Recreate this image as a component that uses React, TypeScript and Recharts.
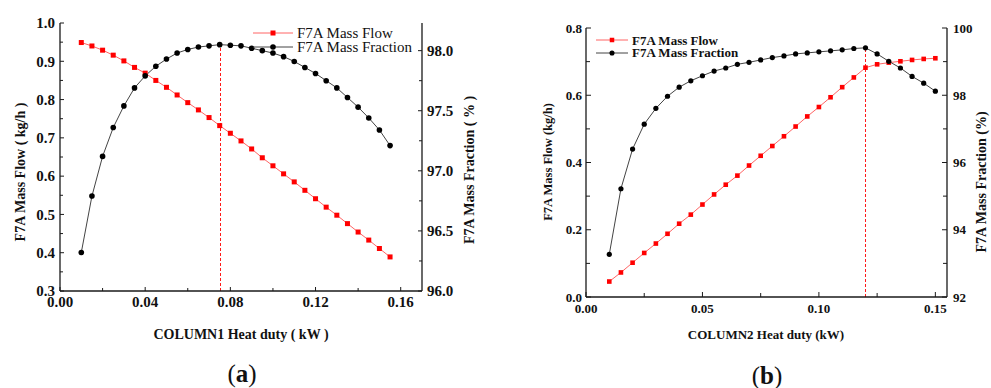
import { LineChart, Line, XAxis, YAxis, ReferenceLine, Legend } from "recharts";

// ---- data (a): COLUMN1 ----
const heatDutyA = [
  0.01, 0.015, 0.02, 0.025, 0.03, 0.035, 0.04, 0.045, 0.05, 0.055, 0.06, 0.065, 0.07, 0.075, 0.08,
  0.085, 0.09, 0.095, 0.1, 0.105, 0.11, 0.115, 0.12, 0.125, 0.13, 0.135, 0.14, 0.145, 0.15, 0.155,
];
const massFlowA = [
  0.949, 0.94, 0.929, 0.916, 0.901, 0.884, 0.869, 0.85, 0.832, 0.812, 0.792, 0.773, 0.753, 0.732, 0.712,
  0.692, 0.671, 0.648, 0.627, 0.606, 0.585, 0.563, 0.541, 0.519, 0.498, 0.476, 0.454, 0.433, 0.411, 0.389,
];
const massFractionA = [
  96.32, 96.79, 97.12, 97.36, 97.54, 97.69, 97.79, 97.87, 97.93, 97.98, 98.01, 98.03, 98.04, 98.05, 98.045,
  98.04, 98.02, 98.0, 97.98, 97.95, 97.91, 97.86, 97.81, 97.75, 97.69, 97.61, 97.53, 97.44, 97.34, 97.21,
];
const peakDutyA = 0.075;
const peakFractionA = 98.05;

// ---- data (b): COLUMN2 ----
const heatDutyB = [
  0.01, 0.015, 0.02, 0.025, 0.03, 0.035, 0.04, 0.045, 0.05, 0.055, 0.06, 0.065, 0.07, 0.075, 0.08,
  0.085, 0.09, 0.095, 0.1, 0.105, 0.11, 0.115, 0.12, 0.125, 0.13, 0.135, 0.14, 0.145, 0.15,
];
const massFlowB = [
  0.046, 0.073, 0.102, 0.131, 0.159, 0.188, 0.218, 0.245, 0.275, 0.305, 0.334, 0.361, 0.391, 0.42, 0.449,
  0.478, 0.507, 0.537, 0.565, 0.594, 0.624, 0.653, 0.682, 0.692, 0.697, 0.701, 0.705, 0.708, 0.71,
];
const massFractionB = [
  93.27, 95.22, 96.4, 97.14, 97.61, 97.97, 98.24, 98.43, 98.58, 98.72, 98.81, 98.92, 98.98, 99.05, 99.12,
  99.17, 99.23, 99.26, 99.29, 99.32, 99.35, 99.39, 99.41, 99.23, 99.01, 98.81, 98.56, 98.36, 98.12,
];
const peakDutyB = 0.12;
const peakFractionB = 99.41;

// ---- ticks ----
const xTicksA = [0, 0.02, 0.04, 0.06, 0.08, 0.1, 0.12, 0.14, 0.16];
const xLabelsA = [0, 0.04, 0.08, 0.12, 0.16];
const flowTicksA = [0.3, 0.35, 0.4, 0.45, 0.5, 0.55, 0.6, 0.65, 0.7, 0.75, 0.8, 0.85, 0.9, 0.95, 1.0];
const flowLabelsA = [0.3, 0.4, 0.5, 0.6, 0.7, 0.8, 0.9, 1.0];
const fracTicksA = [96, 96.25, 96.5, 96.75, 97, 97.25, 97.5, 97.75, 98];
const fracLabelsA = [96, 96.5, 97, 97.5, 98];

const xTicksB = [0, 0.025, 0.05, 0.075, 0.1, 0.125, 0.15];
const xLabelsB = [0, 0.05, 0.1, 0.15];
const flowTicksB = [0, 0.1, 0.2, 0.3, 0.4, 0.5, 0.6, 0.7, 0.8];
const flowLabelsB = [0, 0.2, 0.4, 0.6, 0.8];
const fracTicksB = [92, 93, 94, 95, 96, 97, 98, 99, 100];
const fracLabelsB = [92, 94, 96, 98, 100];

const FONT = '"Liberation Serif", "Times New Roman", serif';
const AXIS = "#1a1a1a";
const FLOW_MARK = "#ff0000";
const FLOW_LINE = "#ff6464";
const FRAC_MARK = "#000000";
const FRAC_LINE = "#444444";
const PEAK_LINE = "#ff1a1a";

type TickCfg = {
  side: "left" | "right" | "bottom";
  labels: number[];
  digits: number;
  margin: number;
  len: number;
  minorLen: number;
  fontSize: number;
};

// ticks point inward, minor ticks get no label
function makeTick(cfg: TickCfg) {
  return (props: any) => {
    const { x, y, payload } = props;
    const v = payload.value as number;
    const major = cfg.labels.some((m) => Math.abs(m - v) < 1e-9);
    const len = major ? cfg.len : cfg.minorLen;
    const label = v.toFixed(cfg.digits);
    const textStyle = { fontFamily: FONT, fontSize: cfg.fontSize, fontWeight: 700 };
    if (cfg.side === "left") {
      const ax = x + cfg.margin;
      return (
        <g>
          <line x1={ax} x2={ax + len} y1={y} y2={y} stroke={AXIS} strokeWidth={1} />
          {major && (
            <text x={x} y={y} dy="0.35em" textAnchor="end" fill="#111" style={textStyle}>
              {label}
            </text>
          )}
        </g>
      );
    }
    if (cfg.side === "right") {
      const ax = x - cfg.margin;
      return (
        <g>
          <line x1={ax} x2={ax - len} y1={y} y2={y} stroke={AXIS} strokeWidth={1} />
          {major && (
            <text x={x} y={y} dy="0.35em" textAnchor="start" fill="#111" style={textStyle}>
              {label}
            </text>
          )}
        </g>
      );
    }
    const ay = y - cfg.margin;
    return (
      <g>
        <line x1={x} x2={x} y1={ay} y2={ay - len} stroke={AXIS} strokeWidth={1} />
        {major && (
          <text x={x} y={y} dy="0.75em" textAnchor="middle" fill="#111" style={textStyle}>
            {label}
          </text>
        )}
      </g>
    );
  };
}

function squareDot(size: number) {
  return (p: any) => {
    if (p.cx == null || p.cy == null) return <g key={p.key} />;
    return <rect key={p.key} x={p.cx - size / 2} y={p.cy - size / 2} width={size} height={size} fill={FLOW_MARK} />;
  };
}

function circleDot(r: number) {
  return (p: any) => {
    if (p.cx == null || p.cy == null) return <g key={p.key} />;
    return <circle key={p.key} cx={p.cx} cy={p.cy} r={r} fill={FRAC_MARK} />;
  };
}

// dotted red marker line at the optimum
function peakShape(p: any) {
  const x = Math.round(p.x1) + 0.5;
  return (
    <line x1={x} x2={x} y1={p.y1} y2={p.y2} stroke={PEAK_LINE} strokeWidth={1} strokeDasharray="3 2" fill="none" />
  );
}

function LegendBox({
  payload,
  fontSize,
  bold,
  rowH,
  lineLen,
  mark,
}: {
  payload?: any[];
  fontSize: number;
  bold: boolean;
  rowH: number;
  lineLen: number;
  mark: number;
}) {
  return (
    <div style={{ fontFamily: FONT, fontSize, fontWeight: bold ? 700 : 400, color: "#111" }}>
      {(payload ?? []).map((e) => {
        const square = e.type === "square";
        const c = lineLen / 2;
        return (
          <div key={e.value} style={{ display: "flex", alignItems: "center", height: rowH, whiteSpace: "nowrap" }}>
            <svg width={lineLen} height={10} style={{ display: "block" }}>
              <line x1={0} x2={lineLen} y1={5} y2={5} stroke={square ? FLOW_LINE : FRAC_LINE} strokeWidth={1} />
              {square ? (
                <rect x={c - mark / 2} y={5 - mark / 2} width={mark} height={mark} fill={FLOW_MARK} />
              ) : (
                <circle cx={c} cy={5} r={mark / 2 + 0.3} fill={FRAC_MARK} />
              )}
            </svg>
            <span style={{ marginLeft: 4, lineHeight: 1 }}>{e.value}</span>
          </div>
        );
      })}
    </div>
  );
}

function Caption({
  text,
  x,
  y,
  size,
  rotate,
  bold = true,
}: {
  text: React.ReactNode;
  x: number;
  y: number;
  size: number;
  rotate?: boolean;
  bold?: boolean;
}) {
  return (
    <div
      style={{
        position: "absolute",
        left: x,
        top: y,
        transform: `translate(-50%, -50%)${rotate ? " rotate(-90deg)" : ""}`,
        fontFamily: FONT,
        fontSize: size,
        fontWeight: bold ? 700 : 400,
        color: "#111",
        whiteSpace: "nowrap",
        lineHeight: 1,
      }}
    >
      {text}
    </div>
  );
}

export default function App() {
  const dataA = heatDutyA.map((x, i) => ({ x, flow: massFlowA[i], frac: massFractionA[i] }));
  const dataB = heatDutyB.map((x, i) => ({ x, flow: massFlowB[i], frac: massFractionB[i] }));

  return (
    <div style={{ position: "absolute", left: 0, top: 0, width: 991, height: 388, background: "#fff", overflow: "hidden" }}>
      {/* (a) */}
      <div style={{ position: "absolute", left: 0, top: 0 }}>
        <LineChart width={490} height={320} data={dataA} margin={{ top: 23, right: 10, bottom: 0, left: 10 }}>
          <XAxis
            type="number"
            dataKey="x"
            domain={[0, 0.17]}
            ticks={xTicksA}
            interval={0}
            height={29}
            tickSize={0}
            tickMargin={5}
            tickLine={false}
            axisLine={{ stroke: AXIS, strokeWidth: 1.3 }}
            tick={makeTick({ side: "bottom", labels: xLabelsA, digits: 2, margin: 5, len: 4, minorLen: 3, fontSize: 15 })}
          />
          <XAxis
            xAxisId="top"
            orientation="top"
            type="number"
            dataKey="x"
            domain={[0, 0.17]}
            height={0}
            tick={false}
            tickLine={false}
            axisLine={{ stroke: AXIS, strokeWidth: 1.3 }}
          />
          <YAxis
            yAxisId="left"
            type="number"
            domain={[0.3, 1.0]}
            ticks={flowTicksA}
            interval={0}
            width={50}
            tickSize={0}
            tickMargin={5}
            tickLine={false}
            axisLine={{ stroke: AXIS, strokeWidth: 1.3 }}
            tick={makeTick({ side: "left", labels: flowLabelsA, digits: 1, margin: 5, len: 4, minorLen: 3, fontSize: 15 })}
          />
          <YAxis
            yAxisId="right"
            orientation="right"
            type="number"
            domain={[96, 98.23]}
            ticks={fracTicksA}
            interval={0}
            width={58}
            tickSize={0}
            tickMargin={5}
            tickLine={false}
            axisLine={{ stroke: AXIS, strokeWidth: 1.3 }}
            tick={makeTick({ side: "right", labels: fracLabelsA, digits: 1, margin: 5, len: 4, minorLen: 3, fontSize: 15 })}
          />
          <ReferenceLine
            yAxisId="right"
            segment={[
              { x: peakDutyA, y: 96 },
              { x: peakDutyA, y: peakFractionA },
            ]}
            stroke={PEAK_LINE}
            shape={peakShape}
          />
          <Line
            yAxisId="left"
            dataKey="flow"
            name="F7A Mass Flow"
            legendType="square"
            stroke={FLOW_LINE}
            strokeWidth={1}
            dot={squareDot(5)}
            isAnimationActive={false}
          />
          <Line
            yAxisId="right"
            dataKey="frac"
            name="F7A Mass Fraction"
            legendType="circle"
            stroke={FRAC_LINE}
            strokeWidth={1}
            dot={circleDot(2.8)}
            isAnimationActive={false}
          />
          <Legend
            layout="vertical"
            align="center"
            verticalAlign="middle"
            wrapperStyle={{ left: 253, top: 26, width: "auto" }}
            content={(p: any) => <LegendBox payload={p.payload} fontSize={15} bold={false} rowH={14} lineLen={40} mark={5} />}
          />
        </LineChart>
      </div>
      <Caption text="F7A Mass Flow ( kg/h )" x={21} y={172} size={14} rotate />
      <Caption text="F7A Mass Fraction ( % )" x={470} y={170} size={14} rotate />
      <Caption text="COLUMN1 Heat duty ( kW )" x={241} y={335} size={14} />
      <Caption
        text={
          <span>
            (<b>a</b>)
          </span>
        }
        x={242}
        y={373}
        size={25}
        bold={false}
      />

      {/* (b) */}
      <div style={{ position: "absolute", left: 500, top: 0 }}>
        <LineChart width={491} height={320} data={dataB} margin={{ top: 28, right: 0, bottom: 0, left: 36 }}>
          <XAxis
            type="number"
            dataKey="x"
            domain={[0, 0.155]}
            ticks={xTicksB}
            interval={0}
            height={23}
            tickSize={0}
            tickMargin={6}
            tickLine={false}
            axisLine={{ stroke: AXIS, strokeWidth: 1.3 }}
            tick={makeTick({ side: "bottom", labels: xLabelsB, digits: 2, margin: 6, len: 5, minorLen: 4, fontSize: 13 })}
          />
          <XAxis
            xAxisId="top"
            orientation="top"
            type="number"
            dataKey="x"
            domain={[0, 0.155]}
            height={0}
            tick={false}
            tickLine={false}
            axisLine={{ stroke: AXIS, strokeWidth: 1.3 }}
          />
          <YAxis
            yAxisId="left"
            type="number"
            domain={[0, 0.8]}
            ticks={flowTicksB}
            interval={0}
            width={50}
            tickSize={0}
            tickMargin={4}
            tickLine={false}
            axisLine={{ stroke: AXIS, strokeWidth: 1.3 }}
            tick={makeTick({ side: "left", labels: flowLabelsB, digits: 1, margin: 4, len: 5, minorLen: 4, fontSize: 13 })}
          />
          <YAxis
            yAxisId="right"
            orientation="right"
            type="number"
            domain={[92, 100]}
            ticks={fracTicksB}
            interval={0}
            width={44}
            tickSize={0}
            tickMargin={6}
            tickLine={false}
            axisLine={{ stroke: AXIS, strokeWidth: 1.3 }}
            tick={makeTick({ side: "right", labels: fracLabelsB, digits: 0, margin: 6, len: 5, minorLen: 4, fontSize: 13 })}
          />
          <ReferenceLine
            yAxisId="right"
            segment={[
              { x: peakDutyB, y: 92 },
              { x: peakDutyB, y: peakFractionB },
            ]}
            stroke={PEAK_LINE}
            shape={peakShape}
          />
          <Line
            yAxisId="left"
            dataKey="flow"
            name="F7A Mass Flow"
            legendType="square"
            stroke={FLOW_LINE}
            strokeWidth={1}
            dot={squareDot(4.6)}
            isAnimationActive={false}
          />
          <Line
            yAxisId="right"
            dataKey="frac"
            name="F7A Mass Fraction"
            legendType="circle"
            stroke={FRAC_LINE}
            strokeWidth={1}
            dot={circleDot(2.6)}
            isAnimationActive={false}
          />
          <Legend
            layout="vertical"
            align="center"
            verticalAlign="middle"
            wrapperStyle={{ left: 96, top: 34, width: "auto" }}
            content={(p: any) => <LegendBox payload={p.payload} fontSize={13} bold rowH={12.5} lineLen={32} mark={4.5} />}
          />
        </LineChart>
      </div>
      <Caption text="F7A Mass Flow (kg/h)" x={548} y={162} size={12.5} rotate />
      <Caption text="F7A Mass Fraction (%)" x={982} y={182} size={14} rotate />
      <Caption text="COLUMN2 Heat duty (kW)" x={766} y={334} size={13} />
      <Caption
        text={
          <span>
            (<b>b</b>)
          </span>
        }
        x={767}
        y={375}
        size={25}
        bold={false}
      />
    </div>
  );
}
